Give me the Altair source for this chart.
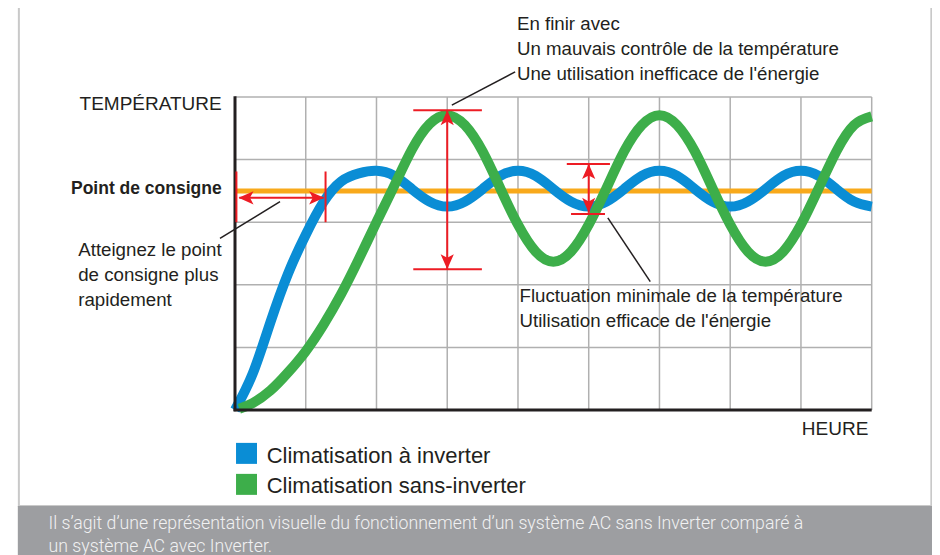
import altair as alt
import pandas as pd

# ---------------- data ----------------
x_grid = [1, 2, 3, 4, 5, 6, 7, 8, 9]
y_grid = [1, 2, 3, 4, 5]
setpoint = 3.5

series_names = ["Climatisation à inverter", "Climatisation sans-inverter"]
series_colors = ["#0a8dd5", "#3dae4a"]

blue_x = [0, 0.25, 0.5, 0.75, 1.0, 1.25, 1.5, 1.75, 2.0, 2.25, 2.5, 2.75, 3.0,
          3.25, 3.5, 3.75, 4.0, 4.25, 4.5, 4.75, 5.0, 5.25, 5.5, 5.75, 6.0,
          6.25, 6.5, 6.75, 7.0, 7.25, 7.5, 7.75, 8.0, 8.25, 8.5, 8.75, 9.0]
blue_y = [0.00, 0.58, 1.40, 2.18, 2.80, 3.32, 3.65, 3.78, 3.82, 3.74, 3.53, 3.33, 3.25,
          3.33, 3.53, 3.74, 3.82, 3.74, 3.53, 3.33, 3.25, 3.33, 3.53, 3.74, 3.82,
          3.74, 3.53, 3.33, 3.25, 3.33, 3.53, 3.74, 3.82, 3.74, 3.53, 3.33, 3.25]

green_x = [0.06, 0.25, 0.5, 0.75, 1.0, 1.25, 1.5, 1.75, 2.0, 2.25, 2.5, 2.75, 3.0,
           3.25, 3.5, 3.75, 4.0, 4.25, 4.5, 4.75, 5.0, 5.25, 5.5, 5.75, 6.0,
           6.25, 6.5, 6.75, 7.0, 7.25, 7.5, 7.75, 8.0, 8.25, 8.5, 8.75, 9.0]
green_y = [0.02, 0.11, 0.31, 0.60, 0.94, 1.36, 1.85, 2.41, 3.00, 3.58, 4.16, 4.57, 4.71,
           4.55, 4.13, 3.54, 2.96, 2.53, 2.37, 2.53, 2.96, 3.54, 4.13, 4.55, 4.71,
           4.55, 4.13, 3.54, 2.96, 2.53, 2.37, 2.53, 2.96, 3.54, 4.13, 4.55, 4.69]

# red dimension markers: (x, y, x2, y2)
red_segments = [
    (0.06, 3.39, 1.25, 3.39), (0.02, 3.00, 0.02, 3.81), (1.28, 3.00, 1.28, 3.81),
    (3.00, 4.79, 3.00, 2.25), (2.52, 4.79, 3.49, 4.79), (2.52, 2.25, 3.49, 2.25),
    (5.00, 3.93, 5.00, 3.15), (4.69, 3.93, 5.30, 3.93), (4.75, 3.13, 5.23, 3.13),
]
# arrow heads: (x, y, direction angle)
red_heads = [
    (0.05, 3.39, 270), (1.26, 3.39, 90),
    (3.00, 4.79, 0), (3.00, 2.25, 180),
    (5.00, 3.93, 0), (5.00, 3.15, 180),
]
# black leader lines
leader_segments = [
    (0.636, 3.33, -0.212, 2.74),
    (3.065, 4.87, 3.96, 5.40),
    (5.27, 3.07, 5.87, 2.05),
]

annot_texts = ["En finir avec", "Un mauvais contrôle de la température",
               "Une utilisation inefficace de l'énergie",
               "Atteignez le point", "de consigne plus", "rapidement",
               "Fluctuation minimale de la température", "Utilisation efficace de l'énergie"]
annot_x = [3.985, 3.985, 3.985, -2.216, -2.216, -2.216, 4.022, 4.022]
annot_y = [6.070, 5.671, 5.272, 2.460, 2.061, 1.661, 1.730, 1.331]

axis_titles = ["TEMPÉRATURE", "HEURE"]
axis_title_x = [-0.188, 8.953]
axis_title_y = [4.792, -0.399]

setpoint_label = "Point de consigne"
setpoint_label_pos = (-0.188, 3.450)

legend_square_x = 0.163
legend_square_y = [-0.693, -1.188]
legend_text_x = 0.448
legend_text_y = [-0.842, -1.331]

caption_lines = ["Il s’agit d’une représentation visuelle du fonctionnement d’un système AC sans Inverter comparé à",
                 "un système AC avec Inverter."]
caption_x = -2.635
caption_y = [-1.906, -2.268]

frame_box = (-3.055, 6.443, 9.843, -1.534)
band_box = (-3.07, -1.534, 9.86, -2.45)

# ---------------- chart ----------------
RED = "#ed1c24"
INK = "#231f20"
FONT = "Liberation Sans"

XS = alt.Scale(domain=[0, 9], range=[227, 863.7], nice=False, zero=False)
YS = alt.Scale(domain=[0, 5], range=[402, 89], nice=False, zero=False)
CS = alt.Scale(domain=series_names, range=series_colors)


def X(f):
    return alt.X(f, type="quantitative", scale=XS, axis=None)


def Y(f):
    return alt.Y(f, type="quantitative", scale=YS, axis=None)


frame_df = pd.DataFrame([dict(x=frame_box[0], y=frame_box[1], x2=frame_box[2], y2=frame_box[3])])
band_df = pd.DataFrame([dict(x=band_box[0], y=band_box[1], x2=band_box[2], y2=band_box[3])])

frame = alt.Chart(frame_df).mark_rect(fill="white", stroke="#c9c9c9", strokeWidth=2).encode(
    x=X("x"), y=Y("y"), x2=alt.X2("x2"), y2=alt.Y2("y2"))
band = alt.Chart(band_df).mark_rect(fill="#9d9ea1", strokeWidth=0).encode(
    x=X("x"), y=Y("y"), x2=alt.X2("x2"), y2=alt.Y2("y2"))

vgrid_df = pd.DataFrame({"x": x_grid, "y": 0, "y2": 5})
hgrid_df = pd.DataFrame({"y": y_grid, "x": 0, "x2": 9})
vgrid = alt.Chart(vgrid_df).mark_rule(color="#b0b0b0", strokeWidth=1.5).encode(
    x=X("x"), y=Y("y"), y2=alt.Y2("y2"))
hgrid = alt.Chart(hgrid_df).mark_rule(color="#b0b0b0", strokeWidth=1.5).encode(
    y=Y("y"), x=X("x"), x2=alt.X2("x2"))

set_df = pd.DataFrame({"y": [setpoint], "x": [0], "x2": [9]})
set_line = alt.Chart(set_df).mark_rule(color="#f8a91b", strokeWidth=5).encode(
    y=Y("y"), x=X("x"), x2=alt.X2("x2"))

blue_df = pd.DataFrame({"x": blue_x, "y": blue_y, "s": series_names[0]})
green_df = pd.DataFrame({"x": green_x, "y": green_y, "s": series_names[1]})
blue_line = alt.Chart(blue_df).mark_line(strokeWidth=10, interpolate="natural").encode(
    x=X("x"), y=Y("y"), color=alt.Color("s:N", scale=CS, legend=None))
green_line = alt.Chart(green_df).mark_line(strokeWidth=10, interpolate="natural").encode(
    x=X("x"), y=Y("y"), color=alt.Color("s:N", scale=CS, legend=None))

axes_df = pd.DataFrame([dict(x=0, y=-0.02, x2=0, y2=5.01), dict(x=-0.02, y=0, x2=9, y2=0)])
axes = alt.Chart(axes_df).mark_rule(color=INK, strokeWidth=3).encode(
    x=X("x"), y=Y("y"), x2=alt.X2("x2"), y2=alt.Y2("y2"))

red_df = pd.DataFrame(red_segments, columns=["x", "y", "x2", "y2"])
red_rules = alt.Chart(red_df).mark_rule(color=RED, strokeWidth=2).encode(
    x=X("x"), y=Y("y"), x2=alt.X2("x2"), y2=alt.Y2("y2"))

heads_df = pd.DataFrame(red_heads, columns=["x", "y", "a"])
heads = alt.Chart(heads_df).mark_point(
    shape="M0,0 L0.55,1.25 L0,0.95 L-0.55,1.25 Z", filled=True, size=576,
    color=RED, opacity=1, strokeWidth=0).encode(
    x=X("x"), y=Y("y"), angle=alt.Angle("a:Q", scale=None))

lead_df = pd.DataFrame(leader_segments, columns=["x", "y", "x2", "y2"])
leaders = alt.Chart(lead_df).mark_rule(color=INK, strokeWidth=1.5).encode(
    x=X("x"), y=Y("y"), x2=alt.X2("x2"), y2=alt.Y2("y2"))

annot_df = pd.DataFrame({"t": annot_texts, "x": annot_x, "y": annot_y})
annots = alt.Chart(annot_df).mark_text(align="left", baseline="alphabetic", font=FONT,
                                       fontSize=18.7, color=INK).encode(
    x=X("x"), y=Y("y"), text="t:N")

titles_df = pd.DataFrame({"t": axis_titles, "x": axis_title_x, "y": axis_title_y})
titles = alt.Chart(titles_df).mark_text(align="right", baseline="alphabetic", font=FONT,
                                        fontSize=19, color=INK).encode(
    x=X("x"), y=Y("y"), text="t:N")

sp_df = pd.DataFrame({"t": [setpoint_label], "x": [setpoint_label_pos[0]], "y": [setpoint_label_pos[1]]})
sp_text = alt.Chart(sp_df).mark_text(align="right", baseline="alphabetic", font=FONT,
                                     fontSize=17.5, fontWeight="bold", color=INK).encode(
    x=X("x"), y=Y("y"), text="t:N")

leg_df = pd.DataFrame({"s": series_names, "x": legend_square_x, "y": legend_square_y,
                       "tx": legend_text_x, "ty": legend_text_y})
leg_sq = alt.Chart(leg_df).mark_square(size=441, opacity=1).encode(
    x=X("x"), y=Y("y"), color=alt.Color("s:N", scale=CS, legend=None))
leg_tx = alt.Chart(leg_df).mark_text(align="left", baseline="alphabetic", font=FONT,
                                     fontSize=22, color=INK).encode(
    x=X("tx"), y=Y("ty"), text="s:N")

cap_df = pd.DataFrame({"t": caption_lines, "x": caption_x, "y": caption_y})
caption = alt.Chart(cap_df).mark_text(align="left", baseline="alphabetic", font="Roboto",
                                      fontSize=17.7, fontWeight=300, color="#f1f1f2").encode(
    x=X("x"), y=Y("y"), text="t:N")

chart = alt.layer(
    frame, band, vgrid, hgrid, set_line, blue_line, green_line, axes,
    red_rules, heads, leaders, annots, titles, sp_text, leg_sq, leg_tx, caption
).properties(
    width=924, height=547, padding=0,
    autosize=alt.AutoSizeParams(type="none"),
    background="white",
).configure_view(strokeWidth=0)

chart.save("out.html", embed_options={"renderer": "svg", "actions": False})
